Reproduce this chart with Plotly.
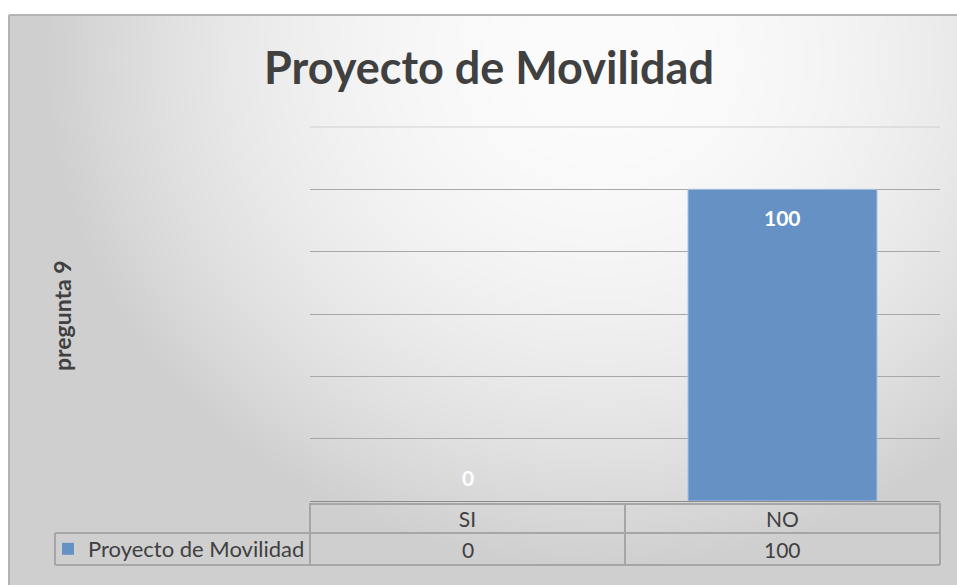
import base64, struct, zlib
import numpy as np
import plotly.graph_objects as go

# ---- data ----
categories = ["SI", "NO"]
series_name = "Proyecto de Movilidad"
values = [0, 100]
title_text = "Proyecto de Movilidad"
y_title = "pregunta 9"

W, H = 957, 585

def px_x(p):
    return p / W

def px_y(p):
    return 1 - p / H

# ---- background gradient image (chart area style) ----
def gradient_png(w, h):
    yy, xx = np.mgrid[0:h, 0:w]
    dx = (xx + 9) - 600.0
    dy = (yy + 15) - 60.0
    drop = 1.45e-4 * (dx ** 2 + 1.2 * dy ** 2)
    v = np.clip(252 - drop, 207, 252).astype(np.uint8)
    raw = b"".join(b"\x00" + v[r].tobytes() for r in range(h))
    def chunk(t, data):
        c = struct.pack(">I", len(data)) + t + data
        return c + struct.pack(">I", zlib.crc32(t + data) & 0xffffffff)
    png = b"\x89PNG\r\n\x1a\n"
    png += chunk(b"IHDR", struct.pack(">IIBBBBB", w, h, 8, 0, 0, 0, 0))
    png += chunk(b"IDAT", zlib.compress(raw, 9))
    png += chunk(b"IEND", b"")
    return "data:image/png;base64," + base64.b64encode(png).decode()

bg = gradient_png(W - 9, H - 15)

FONT = "Lato"
TXT = "#404040"
GRID = "#a8a8a8"
BORDER = "#a6a6a6"

fig = go.Figure()
fig.add_trace(go.Bar(
    x=categories, y=values, name=series_name,
    marker=dict(color="#6591c5",
                line=dict(color="#a9c3e4", width=[1 if v > 0 else 0 for v in values])),
    showlegend=True,
))

annotations = []
# data labels
for c, v in zip(categories, values):
    annotations.append(dict(
        x=c, y=v, xref="x", yref="y", text=f"<b>{v}</b>", showarrow=False,
        font=dict(family=FONT, size=21, color="white"),
        yshift=(-28 if v > 0 else 24)))
# table value row
for c, v in zip(categories, values):
    annotations.append(dict(
        x=c, y=px_y(549), xref="x", yref="paper", text=str(v), showarrow=False,
        font=dict(family=FONT, size=21, color=TXT), yanchor="middle"))
# y title
annotations.append(dict(
    x=px_x(62), y=px_y(316), xref="paper", yref="paper", text=f"<b>{y_title}</b>",
    xanchor="center", yanchor="middle",
    showarrow=False, textangle=-90, font=dict(family=FONT, size=23, color=TXT)))

shapes = []
line = dict(color=BORDER, width=2)
# top gridline (value 120)
shapes.append(dict(type="line", xref="x domain", yref="y domain", x0=0, x1=1,
                   y0=1, y1=1, line=dict(color="#cfcfcf", width=1)))
# table horizontal lines
shapes.append(dict(type="line", xref="x domain", yref="paper", x0=0, x1=1,
                   y0=px_y(504), y1=px_y(504), line=line))
for yy in (533, 565):
    shapes.append(dict(type="line", xref="paper", yref="paper", x0=px_x(55), x1=px_x(310),
                       y0=px_y(yy), y1=px_y(yy), line=line))
    shapes.append(dict(type="line", xref="x domain", yref="paper", x0=0, x1=1,
                       y0=px_y(yy), y1=px_y(yy), line=line))
# table vertical lines
for xd in (0, 1):
    shapes.append(dict(type="line", xref="x domain", yref="paper", x0=xd, x1=xd,
                       y0=px_y(503), y1=px_y(565), line=line))
shapes.append(dict(type="line", xref="x", yref="paper", x0=0.5, x1=0.5,
                   y0=px_y(503), y1=px_y(565), line=line))
shapes.append(dict(type="line", xref="paper", yref="paper", x0=px_x(55), x1=px_x(55),
                   y0=px_y(533), y1=px_y(565), line=line))
# chart-area border
shapes.append(dict(type="line", xref="paper", yref="paper", x0=px_x(9), x1=1,
                   y0=px_y(15), y1=px_y(15), line=dict(color="#b4b4b4", width=2)))
shapes.append(dict(type="line", xref="paper", yref="paper", x0=px_x(9), x1=px_x(9),
                   y0=px_y(15), y1=0, line=dict(color="#b4b4b4", width=2)))

fig.update_layout(
    width=W, height=H,
    margin=dict(l=0, r=0, t=0, b=0),
    paper_bgcolor="white", plot_bgcolor="rgba(0,0,0,0)",
    images=[dict(source=bg, xref="paper", yref="paper", x=px_x(9), y=px_y(15),
                 sizex=1 - px_x(9), sizey=px_y(15), xanchor="left", yanchor="top",
                 sizing="stretch", layer="below")],
    title=dict(text=f"<b>{title_text}</b>", x=px_x(489), xanchor="center",
               y=px_y(68), yanchor="middle",
               font=dict(family=FONT, size=45, color=TXT)),
    bargap=0.4,
    xaxis=dict(domain=[px_x(310), px_x(940)], showgrid=False, zeroline=False,
               showline=True, linecolor="#8c8c8c", linewidth=1,
               ticks="", tickfont=dict(family=FONT, size=21, color=TXT),
               ticklabelstandoff=0),
    yaxis=dict(domain=[px_y(501), px_y(127)], range=[0, 120], dtick=20,
               showticklabels=False, showgrid=True, gridcolor=GRID, gridwidth=1,
               zeroline=False, fixedrange=True),
    legend=dict(x=px_x(48), y=px_y(549), xanchor="left", yanchor="middle",
                bgcolor="rgba(0,0,0,0)", font=dict(family=FONT, size=22, color=TXT),
                itemwidth=30),
    annotations=annotations,
    shapes=shapes,
    font=dict(family=FONT),
)

fig.write_html("out.html", config={"displayModeBar": False},
               post_script="document.body.style.margin='0';")
